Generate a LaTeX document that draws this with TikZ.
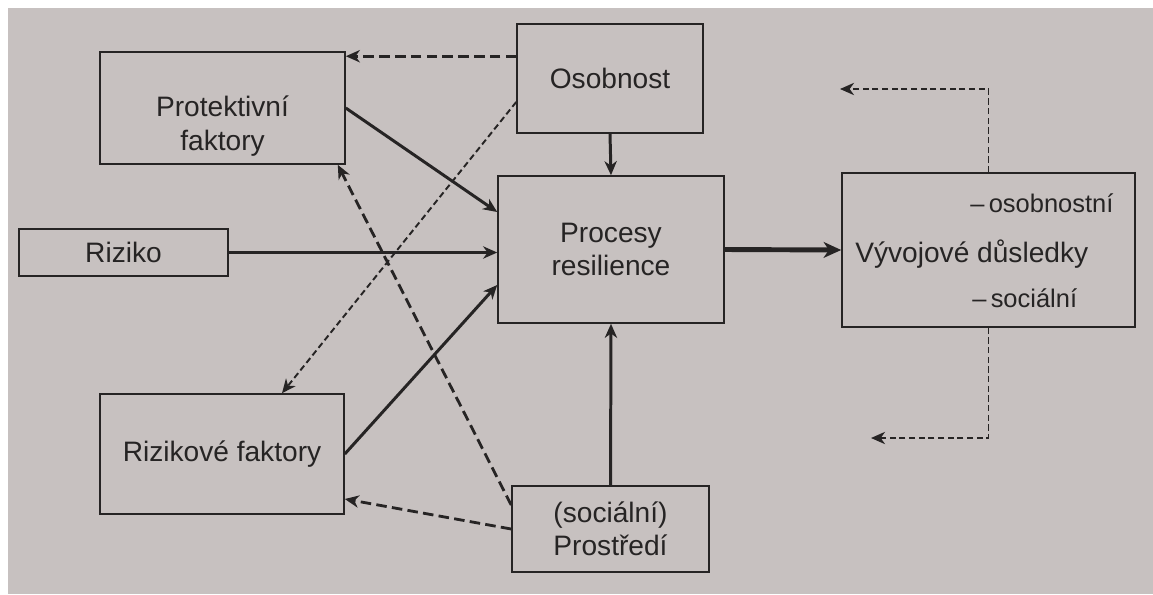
\documentclass[tikz,border=0pt]{standalone}
\usepackage{fontspec}
\setmainfont{Liberation Sans}
\usetikzlibrary{arrows.meta, positioning}

\definecolor{paper}{RGB}{199,193,192}
\definecolor{ink}{RGB}{38,36,36}

\begin{document}
\begin{tikzpicture}[
  box/.style={
    rectangle, draw=ink, line width=0.9pt, inner sep=0pt,
    align=center, text=ink, font=\fontsize{16}{19}\selectfont
  },
  txt/.style={text=ink, align=center, inner sep=0pt, font=\fontsize{16}{19}\selectfont},
  subtxt/.style={text=ink, inner sep=0pt, font=\fontsize{14.5}{17}\selectfont},
  arr/.style={-{Stealth[length=8pt, width=7pt, inset=2.5pt]}, draw=ink, line width=1.7pt},
  bigarr/.style={-{Stealth[length=10pt, width=9pt, inset=3pt]}, draw=ink, line width=2.8pt},
  dasharr/.style={-{Stealth[length=8pt, width=7pt, inset=2.5pt]}, draw=ink,
                  line width=1.6pt, dash pattern=on 6pt off 3pt},
  dashthin/.style={-{Stealth[length=8pt, width=7pt, inset=2.5pt]}, draw=ink,
                   line width=1.1pt, dash pattern=on 3.5pt off 2pt},
]

%% ════════════════════════════════════════════════
%% PAGE
%% ════════════════════════════════════════════════
\fill[white] (0,0) rectangle (23.06,-11.88);
\fill[paper] (0.16,-0.16) rectangle (23.06,-11.88);
\useasboundingbox (0,0) rectangle (23.06,-11.88);

%% ════════════════════════════════════════════════
%% BOXES
%% ════════════════════════════════════════════════

%% Left column
\node[box, minimum width=4.9cm, minimum height=2.24cm] (prot) at (4.45,-2.16) {};
\node[txt] (protlbl) at (4.45,-2.52) {Protektivní\\faktory};
\node[box, minimum width=4.18cm, minimum height=0.94cm] (riz) at (2.47,-5.05) {Riziko};
\node[box, minimum width=4.88cm, minimum height=2.4cm] (rizf) at (4.44,-9.08) {Rizikové faktory};

%% Middle column
\node[box, minimum width=3.72cm, minimum height=2.18cm] (osob) at (12.2,-1.57) {Osobnost};
\node[box, minimum width=4.52cm, minimum height=2.94cm] (proc) at (12.22,-4.99) {Procesy\\resilience};
\node[box, minimum width=3.94cm, minimum height=1.72cm] (prost) at (12.21,-10.58) {(sociální)\\Prostředí};

%% Outcomes
\node[box, minimum width=5.86cm, minimum height=3.08cm] (vyv) at (19.77,-5.0) {};
\node[txt, anchor=base west] (vyvlbl) at (17.1,-5.24) {Vývojové důsledky};
\node[subtxt, anchor=base west] (vyvos) at (19.4,-4.24) {–\,osobnostní};
\node[subtxt, anchor=base west] (vyvsoc) at (19.44,-6.14) {–\,sociální};

%% ════════════════════════════════════════════════
%% CONNECTIONS
%% ════════════════════════════════════════════════

%% Into the resilience process
\draw[arr] (prot.east) -- ([yshift=0.75cm]proc.west);
\draw[arr] (riz.east) -- (riz.east -| proc.west);
\draw[arr] (rizf.east) -- ([yshift=-0.71cm]proc.west);
\draw[arr] (osob.south) -- (proc.north);
\draw[arr] (prost.north) -- (proc.south);
\draw[bigarr] (proc.east) -- (vyv.west);

%% Personality / environment shape the factors
\draw[dasharr] ([yshift=-0.66cm]osob.north west) coordinate (osobtop) -- (osobtop -| prot.east);
\draw[dashthin] ([yshift=-0.47cm]osob.west) -- ([xshift=1.2cm]rizf.north);
\draw[dasharr] ([yshift=0.48cm]prost.west) -- ([xshift=-0.16cm]prot.south east);
\draw[dasharr] (prost.west) -- ([yshift=-0.9cm]rizf.east);

%% Feedback from outcomes
\coordinate (fbtop) at (16.8,-1.78);
\coordinate (fbbot) at (17.42,-8.76);
\draw[dashthin] (vyv.north) |- (fbtop);
\draw[dashthin] (vyv.south) |- (fbbot);

\end{tikzpicture}
\end{document}
